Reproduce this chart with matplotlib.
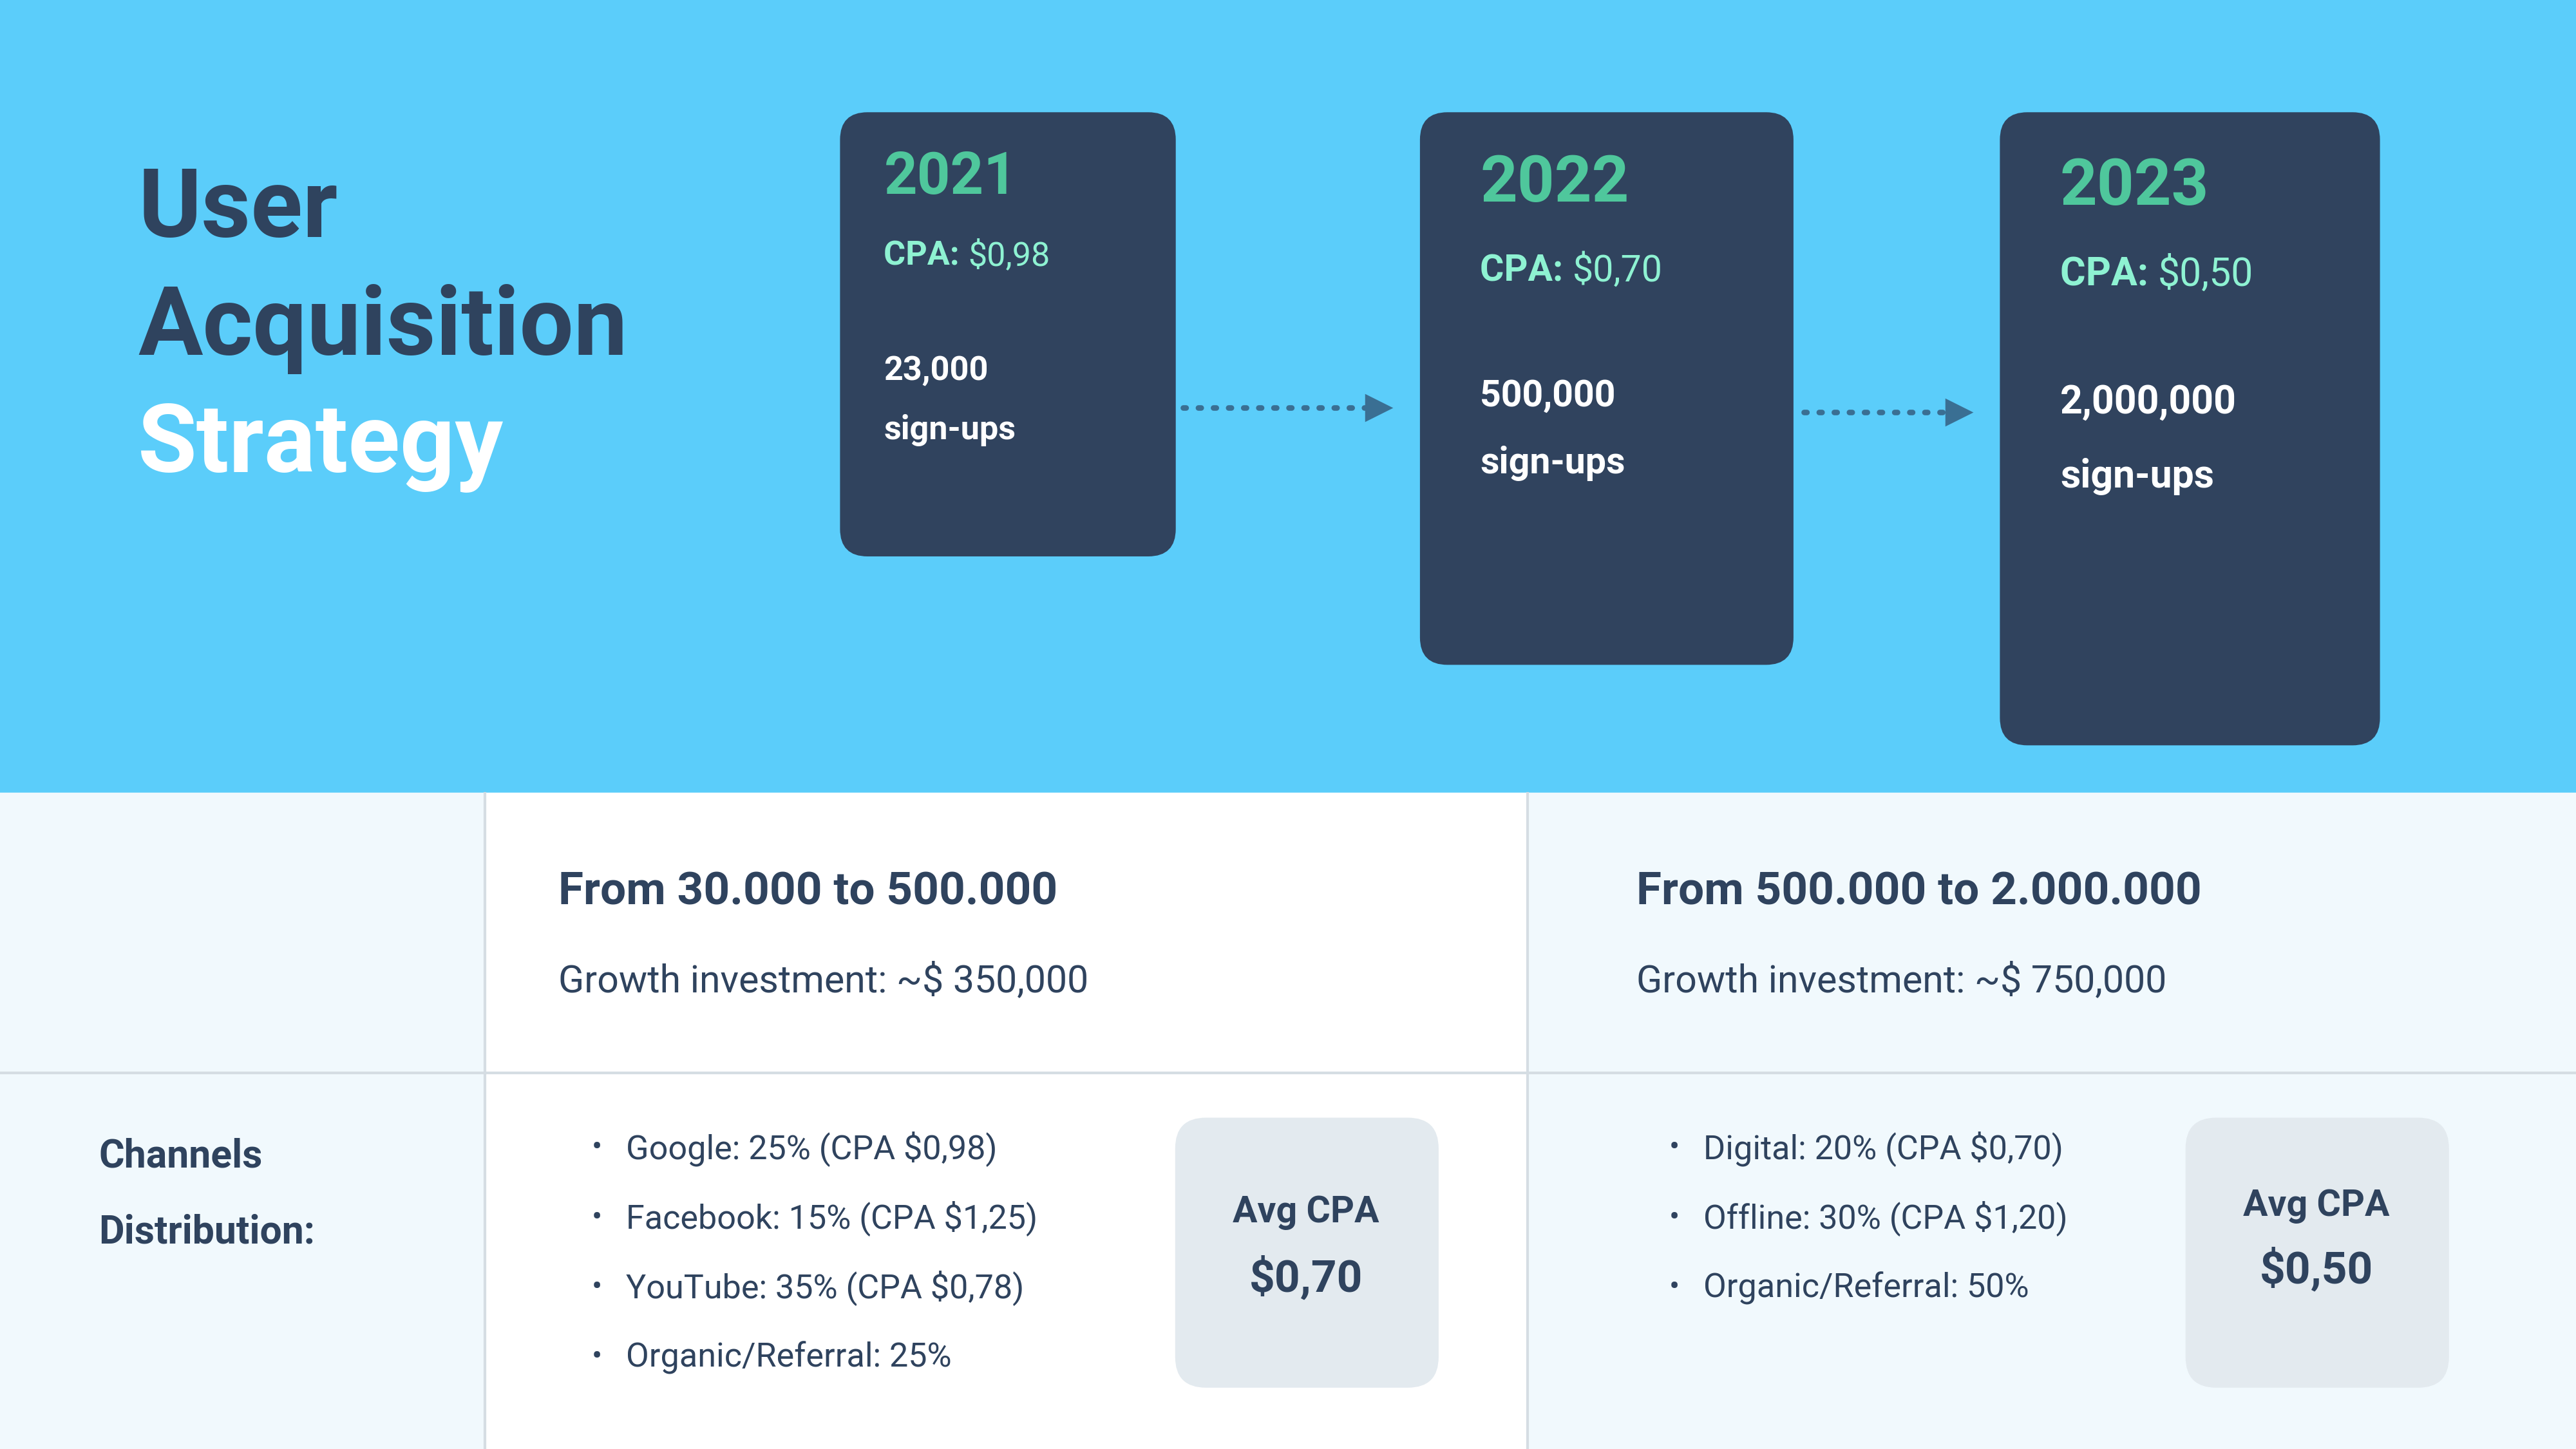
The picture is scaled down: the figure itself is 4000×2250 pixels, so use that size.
import matplotlib.pyplot as plt
from matplotlib.patches import FancyBboxPatch, Rectangle

plt.rcParams['font.family'] = ['Roboto', 'DejaVu Sans']

years = ["2021", "2022", "2023"]
cpas = ["$0,98", "$0,70", "$0,50"]
signups = ["23,000", "500,000", "2,000,000"]
ranges = ["From 30.000 to 500.000", "From 500.000 to 2.000.000"]
investments = ["Growth investment: ~$ 350,000", "Growth investment: ~$ 750,000"]
channels_1 = ["Google: 25% (CPA $0,98)", "Facebook: 15% (CPA $1,25)",
              "YouTube: 35% (CPA $0,78)", "Organic/Referral: 25%"]
channels_2 = ["Digital: 20% (CPA $0,70)", "Offline: 30% (CPA $1,20)",
              "Organic/Referral: 50%"]
avg_cpa = ["$0,70", "$0,50"]

DARK = "#2f435e"
BLUE = "#5bcdfa"
GREEN = "#4fc79c"
MINT = "#8ef2d2"
LIGHT = "#f1f9fd"

fig = plt.figure(figsize=(16, 9), dpi=250)
ax = fig.add_axes([0, 0, 1, 1])
ax.set_xlim(0, 1568)
ax.set_ylim(882, 0)
ax.axis("off")

# backgrounds
ax.add_patch(Rectangle((0, 0), 1568, 483, color=BLUE))
ax.add_patch(Rectangle((0, 483), 295, 399, color=LIGHT))
ax.add_patch(Rectangle((295, 483), 635, 399, color="white"))
ax.add_patch(Rectangle((930, 483), 638, 399, color=LIGHT))
ax.plot([295, 295], [483, 882], color="#d5dde3", lw=1.2)
ax.plot([930, 930], [483, 882], color="#d5dde3", lw=1.2)
ax.plot([0, 1568], [653, 653], color="#d5dde3", lw=1.2)

# title
ax.text(84, 128, "User", fontsize=43, fontweight="bold", color=DARK, va="center")
ax.text(84, 200, "Acquisition", fontsize=43, fontweight="bold", color=DARK, va="center")
ax.text(84, 272, "Strategy", fontsize=43, fontweight="bold", color="white", va="center")

# year cards
boxes = [(512, 69, 203, 269), (865, 69, 226, 335), (1218, 69, 230, 384)]
ysize = [26, 29, 29]
tsize = [15, 16.5, 17.5]
offs = [(108, 156, 226, 262), (112, 165, 241, 282), (114, 167, 245, 290)]
for (x, y, w, h), yr, c, s, ys, ts, o in zip(boxes, years, cpas, signups, ysize, tsize, offs):
    ax.add_patch(FancyBboxPatch((x, y), w, h, boxstyle="round,pad=0,rounding_size=16",
                                color="#30435e", mutation_aspect=1))
    tx = x + 26 if x < 600 else x + 36
    ax.text(tx, o[0], yr, fontsize=ys, fontweight="bold", color=GREEN, va="center")
    t = ax.text(tx, o[1], "CPA: ", fontsize=ts, fontweight="bold", color=MINT, va="center")
    ax.annotate(c, xycoords=t, xy=(1, 0.5), va="center", fontsize=ts, color=MINT)
    ax.text(tx, o[2], s, fontsize=ts, fontweight="bold", color="white", va="center")
    ax.text(tx, o[3], "sign-ups", fontsize=ts, fontweight="bold", color="white", va="center")

# dotted arrows
for x0, x1, y in [(720, 835, 248), (1098, 1188, 251)]:
    ax.plot([x0, x1], [y, y], color="#3a6f93", lw=2.5, ls=(0, (0.5, 2.2)), dash_capstyle="round")
    ax.plot([x1 + 4], [y], marker=">", ms=11, color="#3a6f93")

# bottom table
for x, r, inv in zip([340, 996], ranges, investments):
    ax.text(x, 543, r, fontsize=20.5, fontweight="bold", color=DARK, va="center")
    ax.text(x, 597, inv, fontsize=17, color=DARK, va="center")

ax.text(60, 704, "Channels", fontsize=17.5, fontweight="bold", color=DARK, va="center")
ax.text(60, 750, "Distribution:", fontsize=17.5, fontweight="bold", color=DARK, va="center")

for x, items in [(360, channels_1), (1016, channels_2)]:
    for i, it in enumerate(items):
        y = 699 + i * 42.5
        ax.text(x, y, "\u2022", fontsize=14, color=DARK, va="center")
        ax.text(x + 21, y, it, fontsize=15, color=DARK, va="center")

for x, v in [(716, avg_cpa[0]), (1331, avg_cpa[1])]:
    ax.add_patch(FancyBboxPatch((x, 681), 159, 163, boxstyle="round,pad=0,rounding_size=18",
                                color="#e3eaef"))
    ax.text(x + 79, 738 if x < 900 else 734, "Avg CPA", fontsize=16.5, fontweight="bold",
            color=DARK, ha="center", va="center")
    ax.text(x + 79, 778 if x < 900 else 773, v, fontsize=20, fontweight="bold",
            color=DARK, ha="center", va="center")

fig.savefig("out.png", dpi=250)
